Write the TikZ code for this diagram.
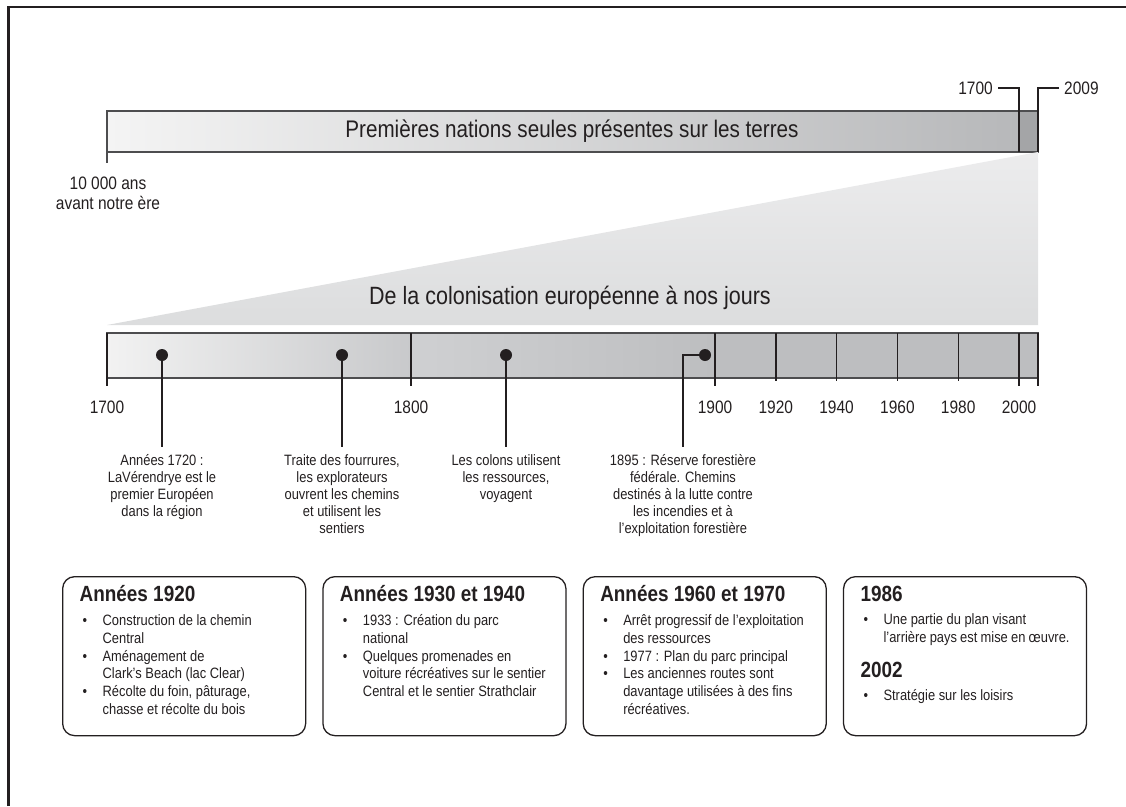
\documentclass[tikz,border=0pt]{standalone}
\usepackage{fontspec}
\setmainfont[FakeStretch=0.86]{Liberation Sans}
\usepackage{tikz}
\usetikzlibrary{
    positioning,     % For relative node placement (e.g., below=of)
    shadings,        % For the grey gradients of the bars
    calc             % For coordinate calculations
}
\definecolor{inkcolor}{HTML}{231F20}
\definecolor{edgecolor}{HTML}{4D4D4F}
\definecolor{barlight}{HTML}{F4F4F4}
\definecolor{bardark}{HTML}{B7B8BA}
\definecolor{barlast}{HTML}{A4A5A7}
\definecolor{zoomtop}{HTML}{ECECED}
\definecolor{zoombottom}{HTML}{DCDDDE}
\definecolor{segonelight}{HTML}{F2F2F2}
\definecolor{segonedark}{HTML}{C8C9CB}
\definecolor{segtwolight}{HTML}{CFD0D2}
\definecolor{segtwodark}{HTML}{BDBEC0}

% heading and bullet lines inside the period boxes
\newcommand{\periodhead}[1]{\par{\fontsize{22}{26}\selectfont\bfseries #1}\par\vspace{6pt}}
\newcommand{\perioditem}[1]{\par\fontsize{15}{17.8}\selectfont\hangindent=23pt\hangafter=1\noindent\hspace*{3pt}\makebox[20pt][l]{\textbullet}#1\par}

\begin{document}
\begin{tikzpicture}[x=1pt, y=-1pt]

    % --- Style Definitions ---
    \tikzset{
        timebar/.style={draw=edgecolor, line width=1.1pt},
        yearbracket/.style={draw=inkcolor, line width=2.6pt},
        majortick/.style={draw=inkcolor, line width=2.6pt},
        minortick/.style={draw=inkcolor, line width=1.4pt},
        eventdot/.style={circle, fill=inkcolor, inner sep=0pt, minimum size=12pt},
        link/.style={draw=inkcolor, line width=1.3pt},
        bartitle/.style={font=\fontsize{24}{28}\selectfont, text=inkcolor},
        yearlabel/.style={font=\fontsize{18}{20}\selectfont, text=inkcolor, inner sep=0pt},
        evtext/.style={font=\fontsize{15}{17}\selectfont, align=center, text=inkcolor,
            inner ysep=7pt, inner xsep=0pt, anchor=north},
        periodbox/.style={draw=inkcolor, line width=1.3pt, rounded corners=12pt,
            inner xsep=17pt, inner ysep=0pt, anchor=north west, text=inkcolor}
    }

    \useasboundingbox (0,0) rectangle (1126,806);

    % --- Frame ---
    \draw[line width=2.6pt, inkcolor] (8.5,806) -- (8.5,7) -- (1126,7);

    % --- Upper bar: the whole period ---
    \shade[left color=barlight, right color=bardark] (107,111) rectangle (1019,152);
    \fill[barlast] (1019,111) rectangle (1038,152);
    \draw[timebar] (107,111) rectangle (1038,152);
    \draw[timebar] (107,152) -- (107,163);
    \node[bartitle] (whole) at (572,131) {Premières nations seules présentes sur les terres};

    \node[yearlabel, align=center] (start) at (108,193) {10 000 ans\\avant notre ère};
    \node[yearlabel, anchor=east] (top1700) at (993,88) {1700};
    \node[yearlabel, anchor=west] (top2009) at (1064,88) {2009};
    \coordinate (split1700) at (1019,152);
    \coordinate (split2009) at (1038,152);
    \draw[yearbracket] ([xshift=5pt]top1700.east) -| (split1700);
    \draw[yearbracket] ([xshift=-5pt]top2009.west) -| (split2009);

    % --- Zoom wedge ---
    \shade[top color=zoomtop, bottom color=zoombottom] (107,325) -- (1038,152) -- (1038,325) -- cycle;
    \node[bartitle, font=\fontsize{25}{28}\selectfont] (recent) at (570,298) {De la colonisation européenne à nos jours};

    % --- Lower bar: 1700 to today ---
    \shade[left color=segonelight, right color=segonedark] (107,333) rectangle (411,378);
    \shade[left color=segtwolight, right color=segtwodark] (411,333) rectangle (715,378);
    \fill[segtwodark] (715,333) rectangle (1038,378);
    \draw[timebar] (107,333) rectangle (1038,378);

    \foreach \yr in {1920,1940,1960,1980}
        \draw[minortick] ({107+(\yr-1700)*3.04},333) -- ++(0,48);
    \foreach \yr in {1700,1800,1900,2000}
        \draw[majortick] ({107+(\yr-1700)*3.04},333) -- ++(0,53);
    \draw[majortick] (1038,333) -- (1038,386);

    \foreach \yr in {1700,1800,1900,1920,1940,1960,1980,2000}
        \node[yearlabel] (yr\yr) at ({107+(\yr-1700)*3.04},407) {\yr};

    % --- Events ---
    \node[eventdot] (d1) at (162,355) {};
    \node[eventdot] (d2) at (342,355) {};
    \node[eventdot] (d3) at (506,355) {};
    \node[eventdot] (d4) at (705,355) {};

    \node[evtext, below=86pt of d1] (ev1) {Années 1720 :\\LaVérendrye est le\\premier Européen\\dans la région};
    \node[evtext, below=86pt of d2] (ev2) {Traite des fourrures,\\les explorateurs\\ouvrent les chemins\\et utilisent les\\sentiers};
    \node[evtext, below=86pt of d3] (ev3) {Les colons utilisent\\les ressources,\\voyagent};
    \node[evtext] (ev4) at (683,447) {1895 : Réserve forestière\\fédérale. Chemins\\destinés à la lutte contre\\les incendies et à\\l’exploitation forestière};

    \draw[link] (d1) -- (ev1);
    \draw[link] (d2) -- (ev2);
    \draw[link] (d3) -- (ev3);
    \draw[link] (d4) -| (ev4);

    % --- Period boxes ---
    \node[periodbox] (p1920) at (62,576) {\parbox[t][159pt][t]{209pt}{\vspace*{9pt}%
        \periodhead{Années 1920}
        \perioditem{Construction de la chemin\\Central}
        \perioditem{Aménagement de\\Clark’s Beach (lac Clear)}
        \perioditem{Récolte du foin, pâturage,\\chasse et récolte du bois}}};

    \node[periodbox, right=16pt of p1920] (p1930) {\parbox[t][159pt][t]{209pt}{\vspace*{9pt}%
        \periodhead{Années 1930 et 1940}
        \perioditem{1933 : Création du parc\\national}
        \perioditem{Quelques promenades en\\voiture récréatives sur le sentier\\Central et le sentier Strathclair}}};

    \node[periodbox, right=16pt of p1930] (p1960) {\parbox[t][159pt][t]{209pt}{\vspace*{9pt}%
        \periodhead{Années 1960 et 1970}
        \perioditem{Arrêt progressif de l’exploitation\\des ressources}
        \perioditem{1977 : Plan du parc principal}
        \perioditem{Les anciennes routes sont\\davantage utilisées à des fins\\récréatives.}}};

    \node[periodbox, right=16pt of p1960] (p1986) {\parbox[t][159pt][t]{209pt}{\vspace*{9pt}%
        \periodhead{1986}
        \perioditem{Une partie du plan visant\\l’arrière pays est mise en œuvre.}
        \vspace{15pt}
        \periodhead{2002}
        \perioditem{Stratégie sur les loisirs}}};

\end{tikzpicture}
\end{document}
